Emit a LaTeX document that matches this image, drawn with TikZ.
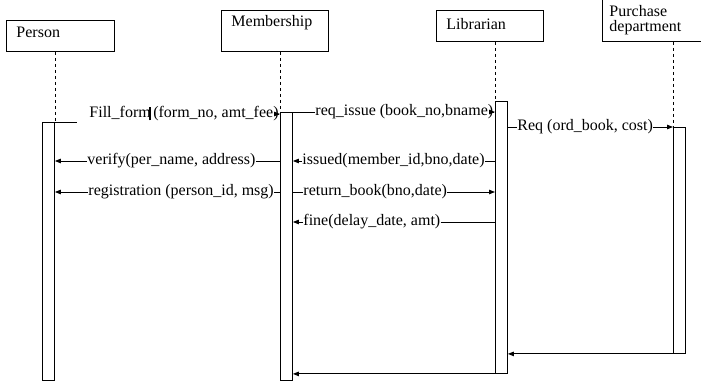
\documentclass[tikz,border=0pt]{standalone}
\usepackage{fontspec}
\setmainfont{Liberation Serif}
\usetikzlibrary{positioning,arrows.meta}

\begin{document}
\begin{tikzpicture}[x=1pt,y=-1pt,line width=0.9pt,
    font=\fontsize{16}{15}\selectfont,
    actor/.style={draw,anchor=north west,align=left,inner xsep=10pt,inner ysep=0pt},
    actbar/.style={draw,fill=white,anchor=north west,minimum width=12pt,inner sep=0pt},
    lifeline/.style={dash pattern=on 3pt off 3pt,line width=0.8pt},
    msgtxt/.style={anchor=west,inner sep=0pt},
    msg/.style={line width=0.9pt},
    call/.style={msg,-{Triangle[length=6pt,width=4.5pt]}}]
  \useasboundingbox (0,0) rectangle (701,381);

  % objects
  \node[actor,text width=88pt,text height=17.5pt,text depth=13.5pt] (person) at (6,20) {Person};
  \node[actor,text width=87pt,text height=16pt,text depth=25pt] (member) at (221,10) {Membership};
  \node[actor,text width=87pt,text height=19pt,text depth=12pt] (libr) at (436,10) {Librarian};
  \node[actor,inner xsep=7pt,text width=110pt,text height=26pt,text depth=25pt] (purch) at (602,-10) {Purchase\\department};

  % activations
  \node[actbar,minimum height=258pt] (pact) at (42,122) {};
  \node[actbar,minimum height=268pt] (mact) at (280,112) {};
  \node[actbar,minimum height=272pt] (lact) at (495,101) {};
  \node[actbar,minimum height=226pt] (dact) at (673,127) {};

  \draw[lifeline] (pact.north east |- person.south) -- (pact.north east);
  \draw[lifeline] (mact.north west |- member.south) -- (mact.north west);
  \draw[lifeline] (lact.north west |- libr.south) -- (lact.north west);
  \draw[lifeline] (dact.north west |- purch.south) -- (dact.north west);

  % messages
  \node[msgtxt] (fill) at (89,114) {Fill\_form\llap{\rule[-2.5pt]{2.2pt}{13pt}}\hspace{2.5pt}(form\_no, amt\_fee)};
  \coordinate (fillstub) at (77,122);
  \draw[msg] (pact.north east) -- (fillstub);
  \draw[call] (fill.east) -- (mact.west |- fill.east);

  \node[msgtxt] (reqiss) at (315,112) {req\_issue (book\_no,bname)};
  \draw[msg] (mact.north east) -- (reqiss.west);
  \draw[call] (reqiss.east) -- (lact.west |- reqiss.east);

  \node[msgtxt] (req) at (517,127) {Req (ord\_book, cost)};
  \draw[msg] (lact.east |- req.west) -- (req.west);
  \draw[call] (req.east) -- (dact.north west);

  \node[msgtxt] (verify) at (87,161) {verify(per\_name, address)};
  \draw[msg] (verify.east) -- (mact.west |- verify.east);
  \draw[call] (verify.west) -- (pact.east |- verify.west);

  \node[msgtxt] (issued) at (302,161) {issued(member\_id,bno,date)};
  \draw[msg] (issued.east) -- (lact.west |- issued.east);
  \draw[call] (issued.west) -- (mact.east |- issued.west);

  \node[msgtxt] (regist) at (88,192) {registration (person\_id, msg)};
  \draw[msg] (regist.east) -- (mact.west |- regist.east);
  \draw[call] (regist.west) -- (pact.east |- regist.west);

  \node[msgtxt] (retbook) at (303,192) {return\_book(bno,date)};
  \draw[msg] (mact.east |- retbook.west) -- (retbook.west);
  \draw[call] (retbook.east) -- (lact.west |- retbook.east);

  \node[msgtxt] (fine) at (303,222) {fine(delay\_date, amt)};
  \draw[msg] (fine.east) -- (lact.west |- fine.east);
  \draw[call] (fine.west) -- (mact.east |- fine.west);

  % returns
  \draw[call] (dact.south west) -- (lact.east |- dact.south west);
  \draw[call] (lact.south west) -- (mact.east |- lact.south west);
\end{tikzpicture}
\end{document}
